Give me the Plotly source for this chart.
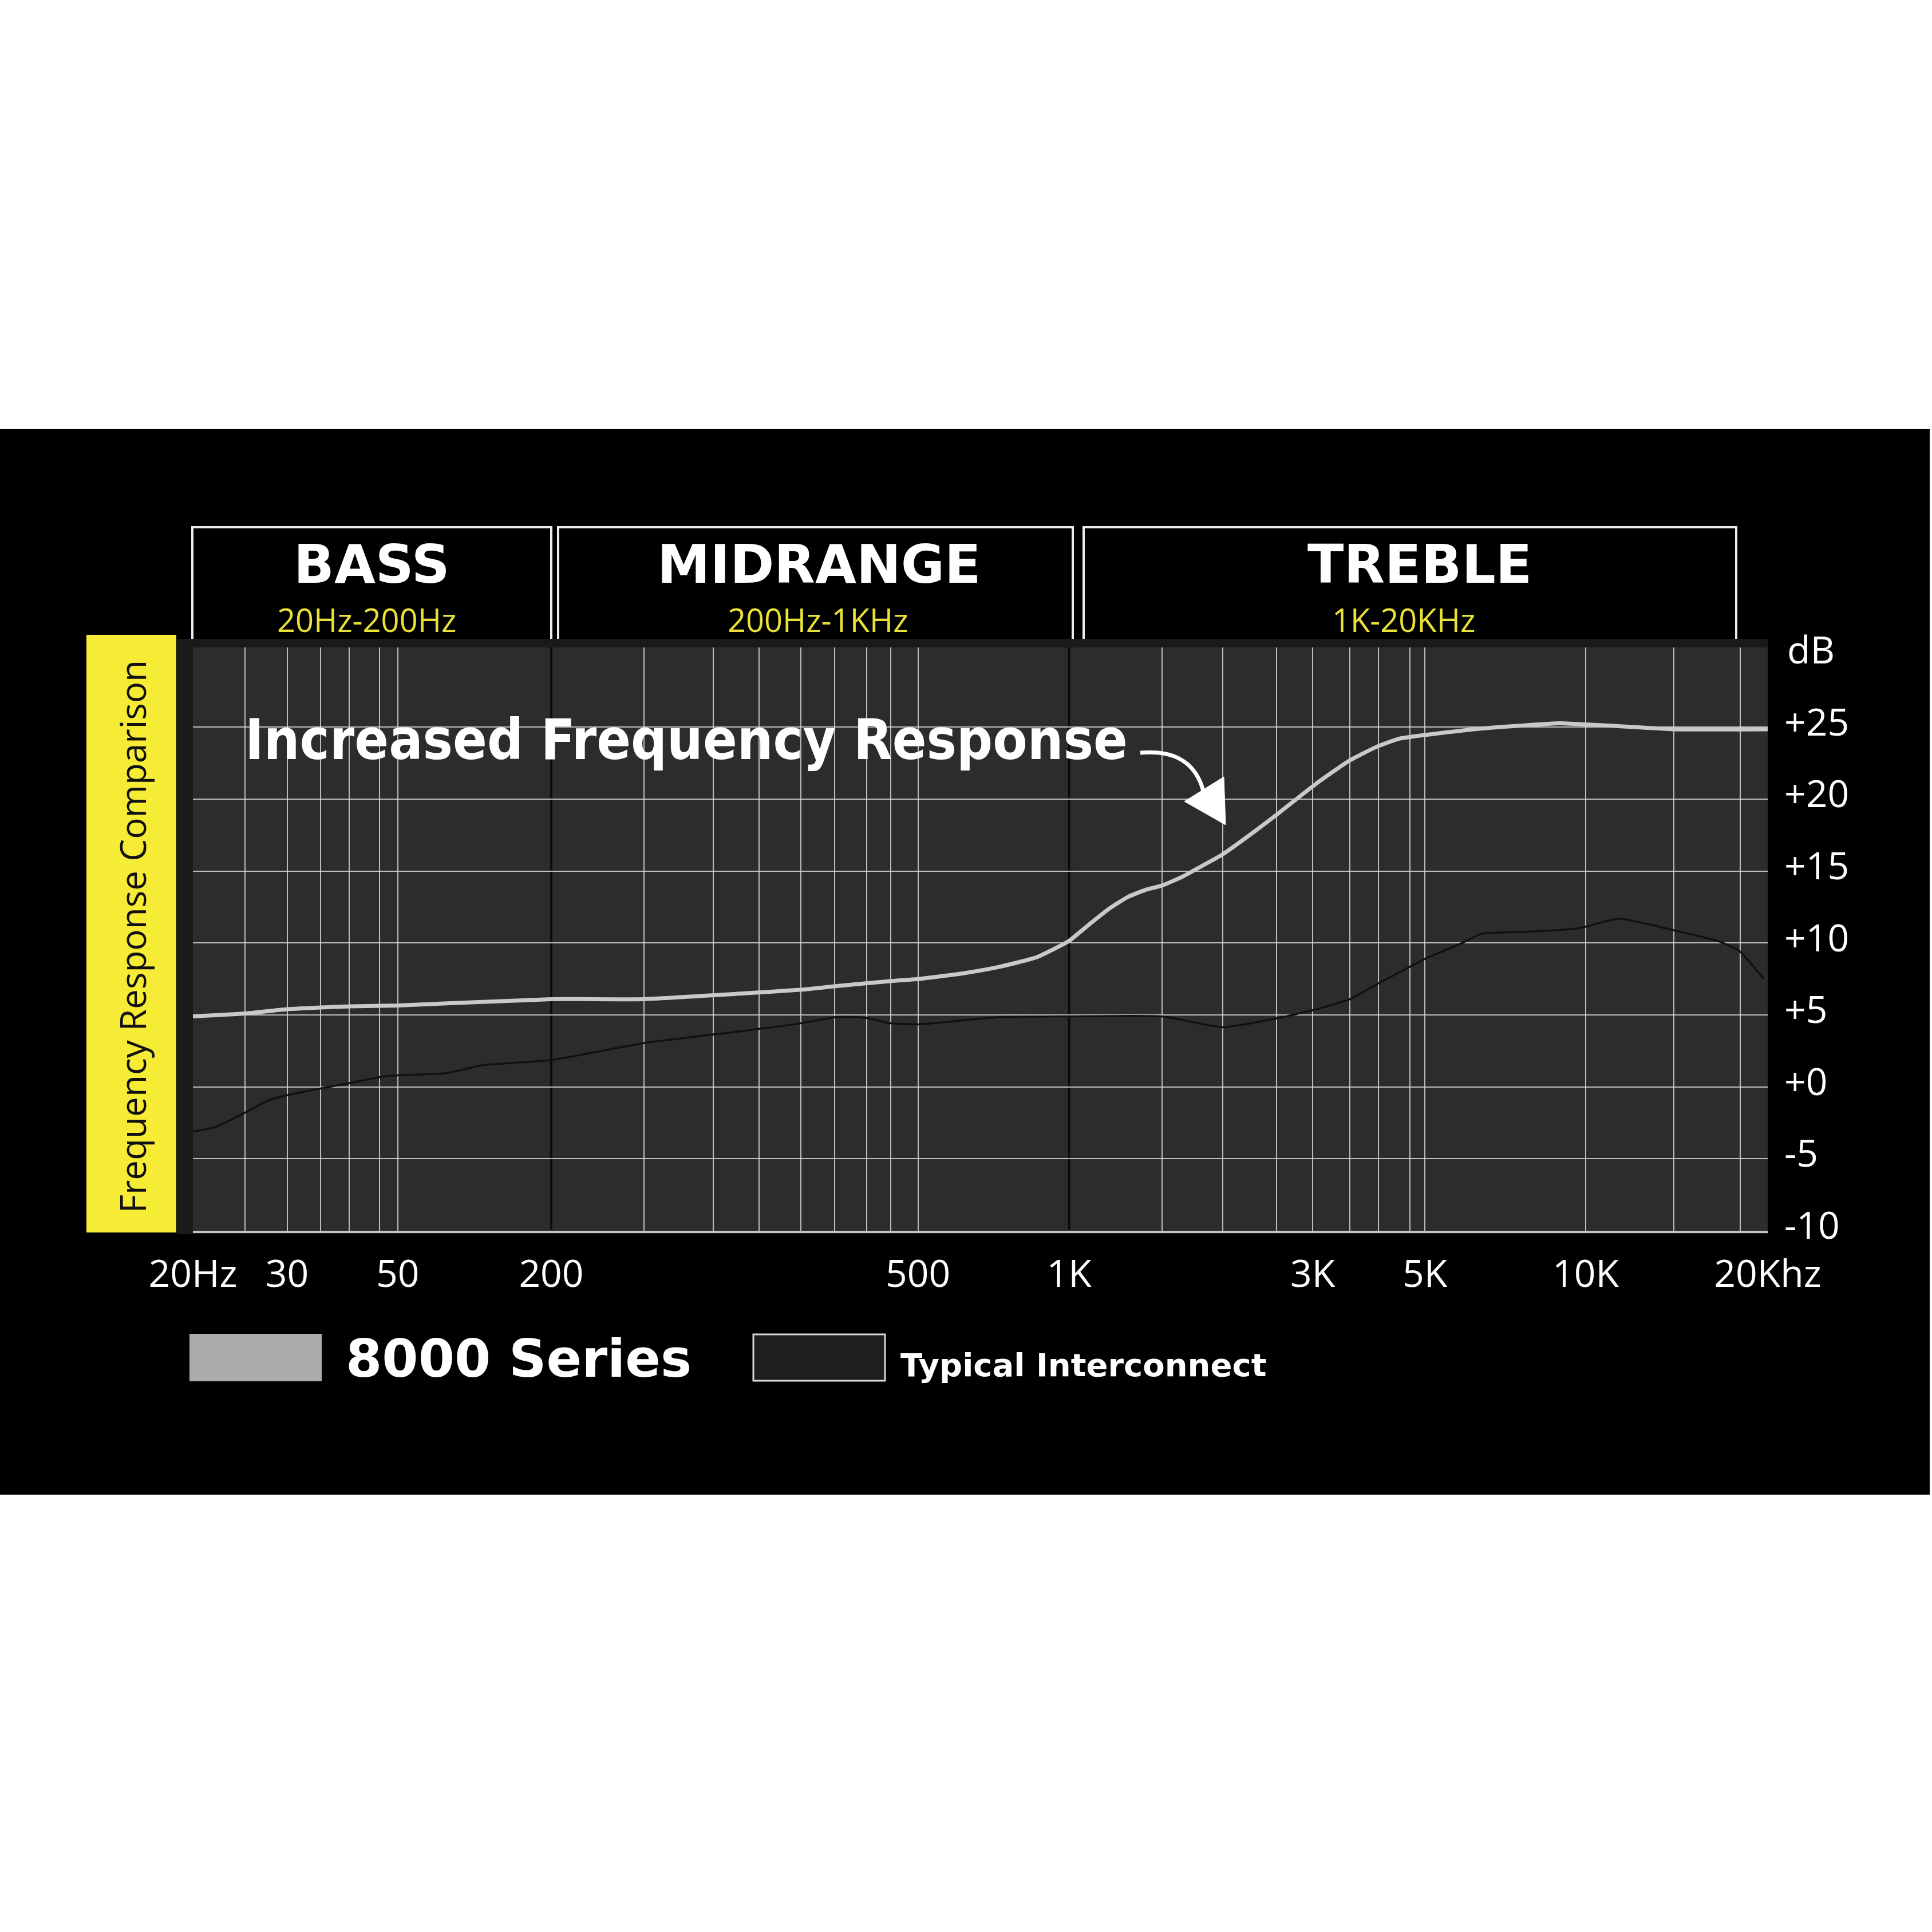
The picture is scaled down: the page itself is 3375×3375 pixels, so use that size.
import numpy as np
import plotly.graph_objects as go

W = H = 3375

# ---- x scale of the chart (non-uniform, piecewise logarithmic) ----
AXIS_HZ = [20, 30, 50, 200, 500, 1000, 3000, 5000, 10000, 20000]
AXIS_POS = [0, 5.980, 13.006, 22.755, 46.041, 55.638, 71.101, 78.226, 88.441, 100]
TICK_TEXT = ["20Hz", "30", "50", "200", "500", "1K", "3K", "5K", "10K", "20Khz"]
GRID_HZ = [20, 25, 30, 35, 40, 46, 50,
           252, 300, 336, 373, 406, 440, 467, 500,
           1520, 2000, 2550, 3000, 3550, 4050, 4670, 5000,
           10000, 14000, 18000]
BAND_EDGES_HZ = [200, 1000]

# ---- y scale ----
DB_TICKS = [-10, -5, 0, 5, 10, 15, 20, 25]
DB_TEXT = ["-10", "-5", "+0", "+5", "+10", "+15", "+20", "+25"]

# ---- series ----
SERIES_8000_HZ = [20, 25, 30, 40, 50, 200, 252, 324, 374, 407, 466, 500, 616, 727, 860, 935,
                  1000, 1104, 1199, 1303, 1413, 1521, 1665, 1808, 1996, 2317, 2556, 3055,
                  3554, 4049, 4446, 5000, 6166, 7311, 8950, 10000, 11855, 14080, 20000]
SERIES_8000_DB = [4.9, 5.1, 5.4, 5.6, 5.66, 6.1, 6.1, 6.5, 6.76, 7.0, 7.35, 7.5, 7.9, 8.35, 9.0, 9.6,
                  10.15, 11.4, 12.4, 13.2, 13.7, 14.0, 14.6, 15.3, 16.15, 17.8, 18.95, 21.1,
                  22.7, 23.7, 24.2, 24.46, 24.86, 25.08, 25.28, 25.2, 25.03, 24.86, 24.86]

TYPICAL_HZ = [20, 22, 25, 27.5, 30, 35, 40, 46, 50, 77, 107, 200, 252, 324, 374, 407, 426, 441,
              466, 500, 727, 1000, 1521, 1996, 2556, 3055, 3554, 4049, 4671, 5000, 5870, 6383,
              7950, 9578, 10000, 11348, 14080, 16730, 17935, 19710]
TYPICAL_DB = [-3.1, -2.8, -1.8, -0.98, -0.58, -0.11, 0.26, 0.68, 0.8, 0.95, 1.5, 1.87, 3.04, 3.9,
              4.43, 4.85, 4.85, 4.77, 4.43, 4.35, 4.85, 4.9, 4.9, 4.15, 4.77, 5.4, 6.1, 7.2, 8.35,
              8.9, 10.0, 10.65, 10.8, 11.0, 11.14, 11.7, 10.86, 10.07, 9.46, 7.5]

BANDS = ["BASS", "MIDRANGE", "TREBLE"]
BAND_RANGES = ["20Hz-200Hz", "200Hz-1KHz", "1K-20KHz"]
LEGEND_NAMES = ["8000 Series", "Typical Interconnect"]
TITLE = "Increased Frequency Response"
SIDE_TITLE = "Frequency Response Comparison"


def xw(hz):
    return np.interp(np.log10(np.asarray(hz, dtype=float)), np.log10(AXIS_HZ), AXIS_POS)


def px(x):
    return x / W


def py(y):
    return 1 - y / H


PLOT_L, PLOT_R, PLOT_T, PLOT_B = 337, 3088, 1131, 2150
BG_PLOT = "#2c2c2c"
GRID_C = "rgba(215,215,215,0.85)"

fig = go.Figure()
fig.add_trace(go.Scatter(x=xw(TYPICAL_HZ), y=TYPICAL_DB, mode="lines", name=LEGEND_NAMES[1],
                         line=dict(color="#111111", width=3.5, shape="spline", smoothing=0.5),
                         showlegend=False, hoverinfo="skip"))
fig.add_trace(go.Scatter(x=xw(SERIES_8000_HZ), y=SERIES_8000_DB, mode="lines", name=LEGEND_NAMES[0],
                         line=dict(color="#c9c9c9", width=7, shape="spline", smoothing=0.5),
                         showlegend=False, hoverinfo="skip"))

shapes = []


def rect(x0, y0, x1, y1, fill, line_color=None, lw=0, layer="below"):
    shapes.append(dict(type="rect", xref="paper", yref="paper", x0=px(x0), x1=px(x1),
                       y0=py(y1), y1=py(y0), fillcolor=fill, layer=layer,
                       line=dict(color=line_color or fill, width=lw)))


# black band, plot frame, plot area
rect(0, 749, 3371, 2611, "#000000")
rect(309, 1116, 3088, 2156, "#1a1a1a")
rect(PLOT_L, PLOT_T, PLOT_R, PLOT_B, BG_PLOT)
# yellow side box
rect(151, 1109, 308, 2153, "#f6ec36")

# header boxes (open at the bottom)
for x0, x1 in [(336, 963), (975, 1874), (1893, 3033)]:
    path = "M {:.5f},{:.5f} L {:.5f},{:.5f} L {:.5f},{:.5f} L {:.5f},{:.5f}".format(
        px(x0), py(1116), px(x0), py(921), px(x1), py(921), px(x1), py(1116))
    shapes.append(dict(type="path", xref="paper", yref="paper", path=path,
                       line=dict(color="#ececec", width=4), layer="below"))

# dark band separators at 200 Hz and 1 kHz
for f in BAND_EDGES_HZ:
    xv = float(xw(f))
    shapes.append(dict(type="line", xref="x", yref="paper", x0=xv, x1=xv,
                       y0=py(PLOT_B), y1=py(PLOT_T), layer="between",
                       line=dict(color=BG_PLOT, width=16)))
    shapes.append(dict(type="line", xref="x", yref="paper", x0=xv, x1=xv,
                       y0=py(PLOT_B - 2), y1=py(PLOT_T), layer="between",
                       line=dict(color="#0c0c0c", width=4)))

# legend swatches
rect(331, 2330, 562, 2413, "#a9abac")
rect(1316, 2331, 1546, 2412, "#1e1e1e", "#d8d8d8", 3)

# curved annotation arrow
arrow_path = "M {:.5f},{:.5f} C {:.5f},{:.5f} {:.5f},{:.5f} {:.5f},{:.5f}".format(
    px(1992), py(1315), px(2058), py(1309), px(2092), py(1338), px(2103), py(1386))
shapes.append(dict(type="path", xref="paper", yref="paper", path=arrow_path,
                   line=dict(color="#ffffff", width=7), layer="above"))
head = "M {:.5f},{:.5f} L {:.5f},{:.5f} L {:.5f},{:.5f} Z".format(
    px(2138), py(1357), px(2141), py(1441), px(2069), py(1400))
shapes.append(dict(type="path", xref="paper", yref="paper", path=head,
                   fillcolor="#ffffff", line=dict(color="#ffffff", width=1), layer="above"))

ann = []


def text(x, y, s, size, family, color="#ffffff", xanchor="center", weight="normal", angle=0):
    ann.append(dict(x=px(x), y=py(y), xref="paper", yref="paper", text=s, showarrow=False,
                    xanchor=xanchor, yanchor="middle", textangle=angle,
                    font=dict(size=size, family=family, color=color, weight=weight)))


HEAD_FONT = "DejaVu Sans"
SANS = "Open Sans"
for name, rng, cx, sx in zip(BANDS, BAND_RANGES, [649, 1431, 2480], [640, 1428, 2452]):
    text(cx, 986, name, 93, HEAD_FONT, weight="bold")
    text(sx, 1082, rng, 56, SANS, color="#e9e136")

text(3120, 1133, "dB", 66, SANS, xanchor="left")
text(231, 1636, SIDE_TITLE, 62, SANS, color="#111111", angle=-90)
text(426, 1292, TITLE, 98, "Liberation Sans Narrow, DejaVu Sans Condensed, Roboto", xanchor="left",
     weight="bold")
text(602, 2373, LEGEND_NAMES[0], 91, HEAD_FONT, xanchor="left", weight="bold")
text(1571, 2384, LEGEND_NAMES[1], 56, HEAD_FONT, xanchor="left", weight="bold")

fig.update_layout(
    width=W, height=H, margin=dict(l=0, r=0, t=0, b=0, autoexpand=False),
    paper_bgcolor="#ffffff", plot_bgcolor="rgba(0,0,0,0)",
    shapes=shapes, annotations=ann, showlegend=False,
    xaxis=dict(domain=[px(PLOT_L), px(PLOT_R)], range=[0, 100], fixedrange=True, automargin=False,
               tickmode="array", tickvals=xw(AXIS_HZ), ticktext=TICK_TEXT,
               showgrid=False, zeroline=False, ticks="",
               showline=True, linecolor="#c4c4c4", linewidth=4,
               ticklabelstandoff=15,
               tickfont=dict(family=SANS, size=66, color="#ffffff")
               ,
               minor=dict(tickmode="array", tickvals=xw(GRID_HZ), showgrid=True,
                          gridcolor=GRID_C, gridwidth=2, ticks="")),
    yaxis=dict(domain=[py(PLOT_B), py(PLOT_T)], range=[-10, 30.55], fixedrange=True, automargin=False,
               side="right", tickmode="array", tickvals=DB_TICKS, ticktext=DB_TEXT,
               showgrid=True, gridcolor=GRID_C, gridwidth=2, zeroline=False, ticks="",
               ticklabelstandoff=28, ticklabelshift=-9,
               tickfont=dict(family=SANS, size=66, color="#ffffff")),
)

fig.write_html("out.html")
